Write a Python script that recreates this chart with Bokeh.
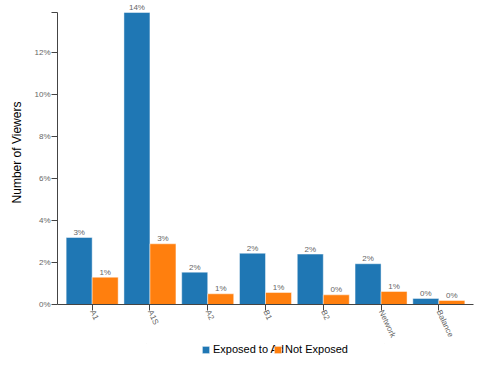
from bokeh.plotting import figure
from bokeh.models import (ColumnDataSource, FactorRange, Range1d, FixedTicker,
                          Legend, LegendItem)
from bokeh.layouts import column
from bokeh.transform import dodge
from bokeh.core.properties import value
from bokeh.embed import file_html
from bokeh.resources import INLINE
import math

# ---- data ----
categories = ["A1", "A1S", "A2", "B1", "B2", "Network", "Balance"]
exposed = [3.19, 13.9, 1.54, 2.44, 2.40, 1.94, 0.29]       # % of viewers, exposed to ad
not_exposed = [1.30, 2.89, 0.51, 0.57, 0.46, 0.62, 0.19]   # % of viewers, not exposed
series_names = ["Exposed to Ad", "Not Exposed"]
series_cols = ["exposed", "not_exposed"]
series_colors = ["#1f77b4", "#ff7f0e"]
yticks = [0, 2, 4, 6, 8, 10, 12]

FONT = "Liberation Sans"
y_max = max(exposed + not_exposed)

src = ColumnDataSource(dict(
    cat=categories,
    exposed=exposed,
    not_exposed=not_exposed,
    lab_e=[f"{round(v)}%" for v in exposed],
    lab_n=[f"{round(v)}%" for v in not_exposed],
))

p = figure(
    width=482, height=343,
    x_range=FactorRange(factors=categories, range_padding=0.1,
                        range_padding_units="absolute"),
    y_range=Range1d(0, y_max * 304 / 292),
    output_backend="svg", toolbar_location=None,
    min_border_left=57, min_border_right=9, min_border_top=0,
    min_border_bottom=39,
)
p.outline_line_color = None
p.grid.grid_line_color = None

bw = 0.45
bar_style = dict(line_color="white", line_alpha=0.45, line_width=1)
p.vbar(x=dodge("cat", -bw / 2, range=p.x_range), top="exposed", width=bw,
       source=src, fill_color=series_colors[0], **bar_style)
p.vbar(x=dodge("cat", bw / 2, range=p.x_range), top="not_exposed", width=bw,
       source=src, fill_color=series_colors[1], **bar_style)

for col, lab, off in (("exposed", "lab_e", -bw / 2), ("not_exposed", "lab_n", bw / 2)):
    p.text(x=dodge("cat", off, range=p.x_range), y=col, text=lab, source=src,
           text_align="center", text_baseline="alphabetic", y_offset=-5,
           text_font=value(FONT), text_font_size="8px", text_color="#666666")

# y axis
ya = p.yaxis[0]
ya.ticker = FixedTicker(ticks=yticks + [y_max])
ov = {t: f"{t}%" for t in yticks}
ov[y_max] = ""
ya.major_label_overrides = ov
ya.bounds = (0, y_max)
ya.axis_label = "Number of Viewers"
ya.axis_label_text_font = FONT
ya.axis_label_text_font_size = "12px"
ya.axis_label_text_font_style = "normal"
ya.axis_label_text_color = "black"
ya.axis_label_standoff = 7
ya.minor_tick_line_color = None

xa = p.xaxis[0]
xa.major_label_orientation = -65 * math.pi / 180

for ax in (xa, ya):
    ax.axis_line_color = "#444444"
    ax.major_tick_line_color = "#444444"
    ax.major_tick_out = 6
    ax.major_tick_in = 0
    ax.major_label_text_font = FONT
    ax.major_label_text_font_size = "8px"
    ax.major_label_text_color = "#666666"
xa.major_label_standoff = 0
ya.major_label_standoff = 1

# ---- legend strip below the chart ----
# its sample bars use the real data but lie far outside this strip's visible range
lp = figure(width=482, height=24, x_range=FactorRange(factors=categories),
            y_range=Range1d(-1001, -1000),
            output_backend="svg", toolbar_location=None,
            x_axis_location=None, y_axis_location=None,
            min_border=0, min_border_left=0, min_border_right=0,
            min_border_top=0, min_border_bottom=0)
lp.outline_line_color = None
lp.grid.grid_line_color = None
legend_x = [144, 216]
for i, name in enumerate(series_names):
    r = lp.vbar(x="cat", top=series_cols[i], width=0.001, source=src,
                fill_color=series_colors[i], **bar_style)
    lg = Legend(items=[LegendItem(label=name, renderers=[r], index=0)],
                location=(legend_x[i], 12), orientation="horizontal",
                glyph_width=9, glyph_height=9, label_height=12,
                label_standoff=3, padding=0, margin=0, spacing=0,
                border_line_color=None, background_fill_alpha=0,
                label_text_font=FONT, label_text_font_size="11px",
                label_text_color="black")
    lp.add_layout(lg, "center")

layout = column(p, lp, spacing=0)
open("out.html", "w").write(file_html(layout, INLINE))
